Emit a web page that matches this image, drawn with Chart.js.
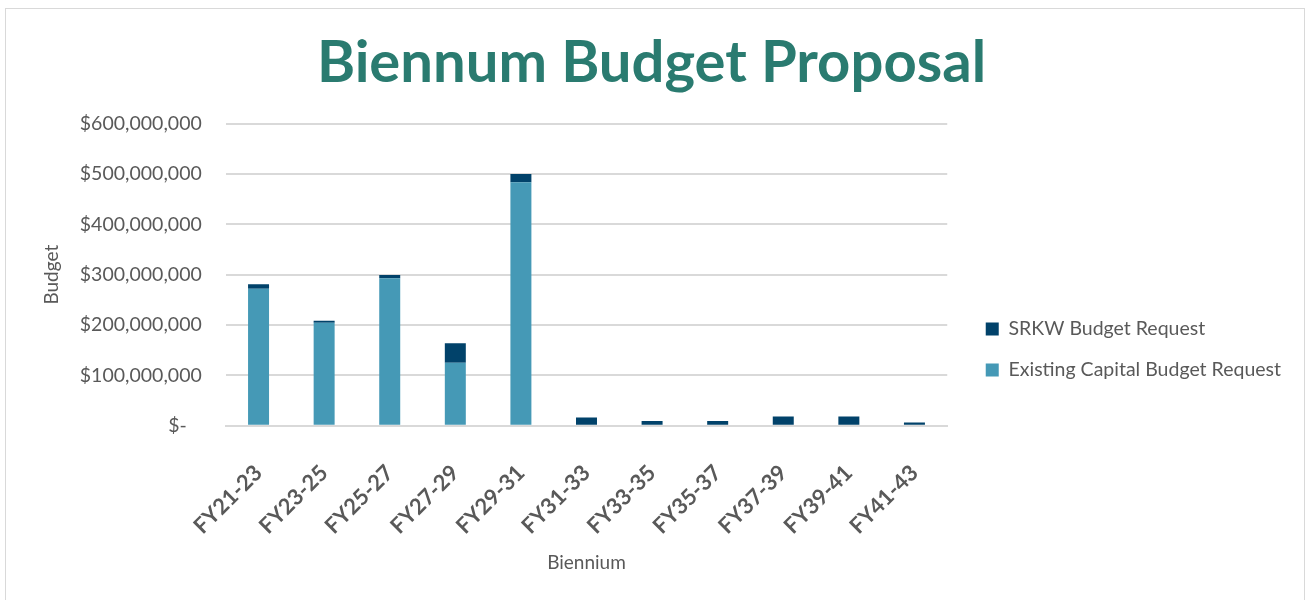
<!DOCTYPE html>
<html>
<head>
<meta charset="utf-8">
<script src="https://cdn.jsdelivr.net/npm/chart.js@4"></script>
<style>
    html, body { margin: 0; padding: 0; background: #fff; }
    #frame {
        position: absolute; left: 5px; top: 8px; width: 1300px; height: 600px;
        border: 1px solid #d9d9d9; box-sizing: border-box;
    }
    #wrap { position: absolute; left: 0; top: 0; width: 1312px; height: 600px; }
</style>
</head>
<body>
<div id="frame"></div>
<div id="wrap"><canvas id="budgetChart"></canvas></div>
<script>
const bienniums = ['FY21-23', 'FY23-25', 'FY25-27', 'FY27-29', 'FY29-31', 'FY31-33',
    'FY33-35', 'FY35-37', 'FY37-39', 'FY39-41', 'FY41-43'];
const existingCapital = [272000000, 204500000, 293000000, 125000000, 483500000, 0, 0, 0, 0, 0, 0];
const srkwRequest = [9000000, 4000000, 6500000, 39000000, 16500000, 16500000, 9300000, 9300000, 18500000, 18500000, 6600000];

const gray = '#595959';
const ctx = document.getElementById('budgetChart').getContext('2d');

// nudge the legend a bit to the right of its box, leaves a wider gap after the plot
const legendShift = {
    id: 'legendShift',
    afterInit(chart) {
        const lg = chart.legend;
        const draw = lg.draw.bind(lg);
        lg.draw = function () {
            this.ctx.save();
            this.ctx.translate(17, 0);
            draw();
            this.ctx.restore();
        };
    }
};

new Chart(ctx, {
    type: 'bar',
    data: {
        labels: bienniums,
        datasets: [{
            label: 'Existing Capital Budget Request',
            data: existingCapital,
            backgroundColor: '#4599b6',
            barPercentage: 0.64,
            categoryPercentage: 0.5
        }, {
            label: 'SRKW Budget Request',
            data: srkwRequest,
            backgroundColor: '#01426a',
            barPercentage: 0.64,
            categoryPercentage: 0.5
        }]
    },
    plugins: [legendShift],
    options: {
        responsive: true,
        maintainAspectRatio: false,
        animation: false,
        layout: { padding: { left: 29, right: 38, top: 10, bottom: 22 } },
        plugins: {
            title: {
                display: true,
                text: 'Biennum Budget Proposal',
                color: '#2a7b70',
                font: { family: 'Lato', size: 58, weight: 'bold' },
                padding: { top: 18, bottom: 26 }
            },
            legend: {
                position: 'right',
                reverse: true,
                maxWidth: 400,
                title: {
                    display: true,
                    text: ' ',
                    font: { size: 1 },
                    padding: { top: 110, bottom: 0 }
                },
                labels: {
                    color: gray,
                    font: { family: 'Lato', size: 19.5 },
                    boxWidth: 13,
                    boxHeight: 13,
                    padding: 21.5
                }
            },
            tooltip: { enabled: false }
        },
        scales: {
            x: {
                stacked: true,
                grid: { display: false },
                border: { color: '#d9d9d9', width: 2 },
                ticks: {
                    color: gray,
                    font: { family: 'Lato', size: 22, weight: 'bold' },
                    padding: 26,
                    minRotation: 45,
                    maxRotation: 45
                },
                title: {
                    display: true,
                    text: 'Biennium',
                    color: gray,
                    font: { family: 'Lato', size: 19 },
                    padding: { top: -14, bottom: 4 }
                }
            },
            y: {
                stacked: true,
                min: 0,
                max: 600000000,
                grid: { color: '#d9d9d9', lineWidth: 2, drawTicks: false },
                border: { display: false },
                ticks: {
                    stepSize: 100000000,
                    color: gray,
                    padding: 24,
                    font: { family: 'Lato', size: 19.5 },
                    callback: value => value === 0 ? '$-   ' : '$' + value.toLocaleString('en-US')
                },
                title: {
                    display: true,
                    text: 'Budget',
                    color: gray,
                    font: { family: 'Lato', size: 19 },
                    padding: { top: 11, bottom: -7 }
                }
            }
        }
    }
});
</script>
</body>
</html>
